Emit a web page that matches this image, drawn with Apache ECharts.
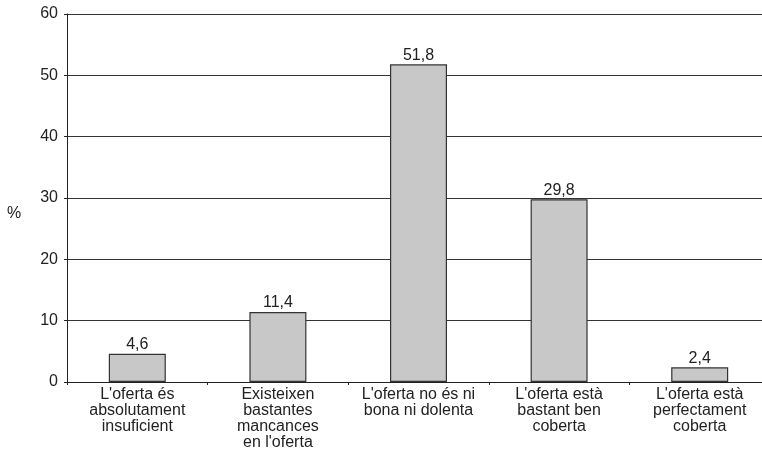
<!DOCTYPE html>
<html><head><meta charset="utf-8">
<script src="https://cdn.jsdelivr.net/npm/echarts@6/dist/echarts.min.js"></script>
<style>html,body{margin:0;padding:0;background:#fff}#c{width:762px;height:450px}</style>
</head><body><div id="c"></div>
<script>
const categories = [
  "L'oferta és\nabsolutament\ninsuficient",
  "Existeixen\nbastantes\nmancances\nen l'oferta",
  "L'oferta no és ni\nbona ni dolenta",
  "L'oferta està\nbastant ben\ncoberta",
  "L'oferta està\nperfectament\ncoberta"
];
const values = [4.6, 11.4, 51.8, 29.8, 2.4];
const yTicks = { min: 0, max: 60, interval: 10 };
const yLabel = "%";

const chart = echarts.init(document.getElementById('c'));
const font = "'Liberation Sans', Arial, sans-serif";
chart.setOption({
  animation: false,
  grid: { left: 67, right: -8, top: 14, bottom: 68, containLabel: false, outerBoundsMode: 'none' },
  xAxis: {
    type: 'category', data: categories,
    axisLine: { lineStyle: { color: '#222', width: 1 } },
    axisTick: { show: true, length: 3, lineStyle: { color: '#222' } },
    axisLabel: { color: '#222', fontSize: 16, fontFamily: font, lineHeight: 16, margin: 5, interval: 0 }
  },
  yAxis: {
    type: 'value', min: yTicks.min, max: yTicks.max, interval: yTicks.interval,
    axisLine: { show: true, lineStyle: { color: '#222' } },
    axisTick: { show: true, length: 3, lineStyle: { color: '#222' } },
    axisLabel: { color: '#222', fontSize: 16, fontFamily: font, margin: 9 },
    splitLine: { show: true, lineStyle: { color: '#333', width: 1 } }
  },
  graphic: [{ type: 'text', left: 7, top: 206, style: { text: yLabel, fontSize: 16, fontFamily: font, fill: '#222' } }],
  series: [{
    type: 'bar', data: values, barWidth: 57,
    itemStyle: { color: '#c8c8c8', borderColor: '#333', borderWidth: 1.2 },
    label: { show: true, position: 'top', distance: 1, color: '#222', fontSize: 16, fontFamily: font,
      formatter: p => String(p.value).replace('.', ',') }
  }]
});
</script></body></html>
